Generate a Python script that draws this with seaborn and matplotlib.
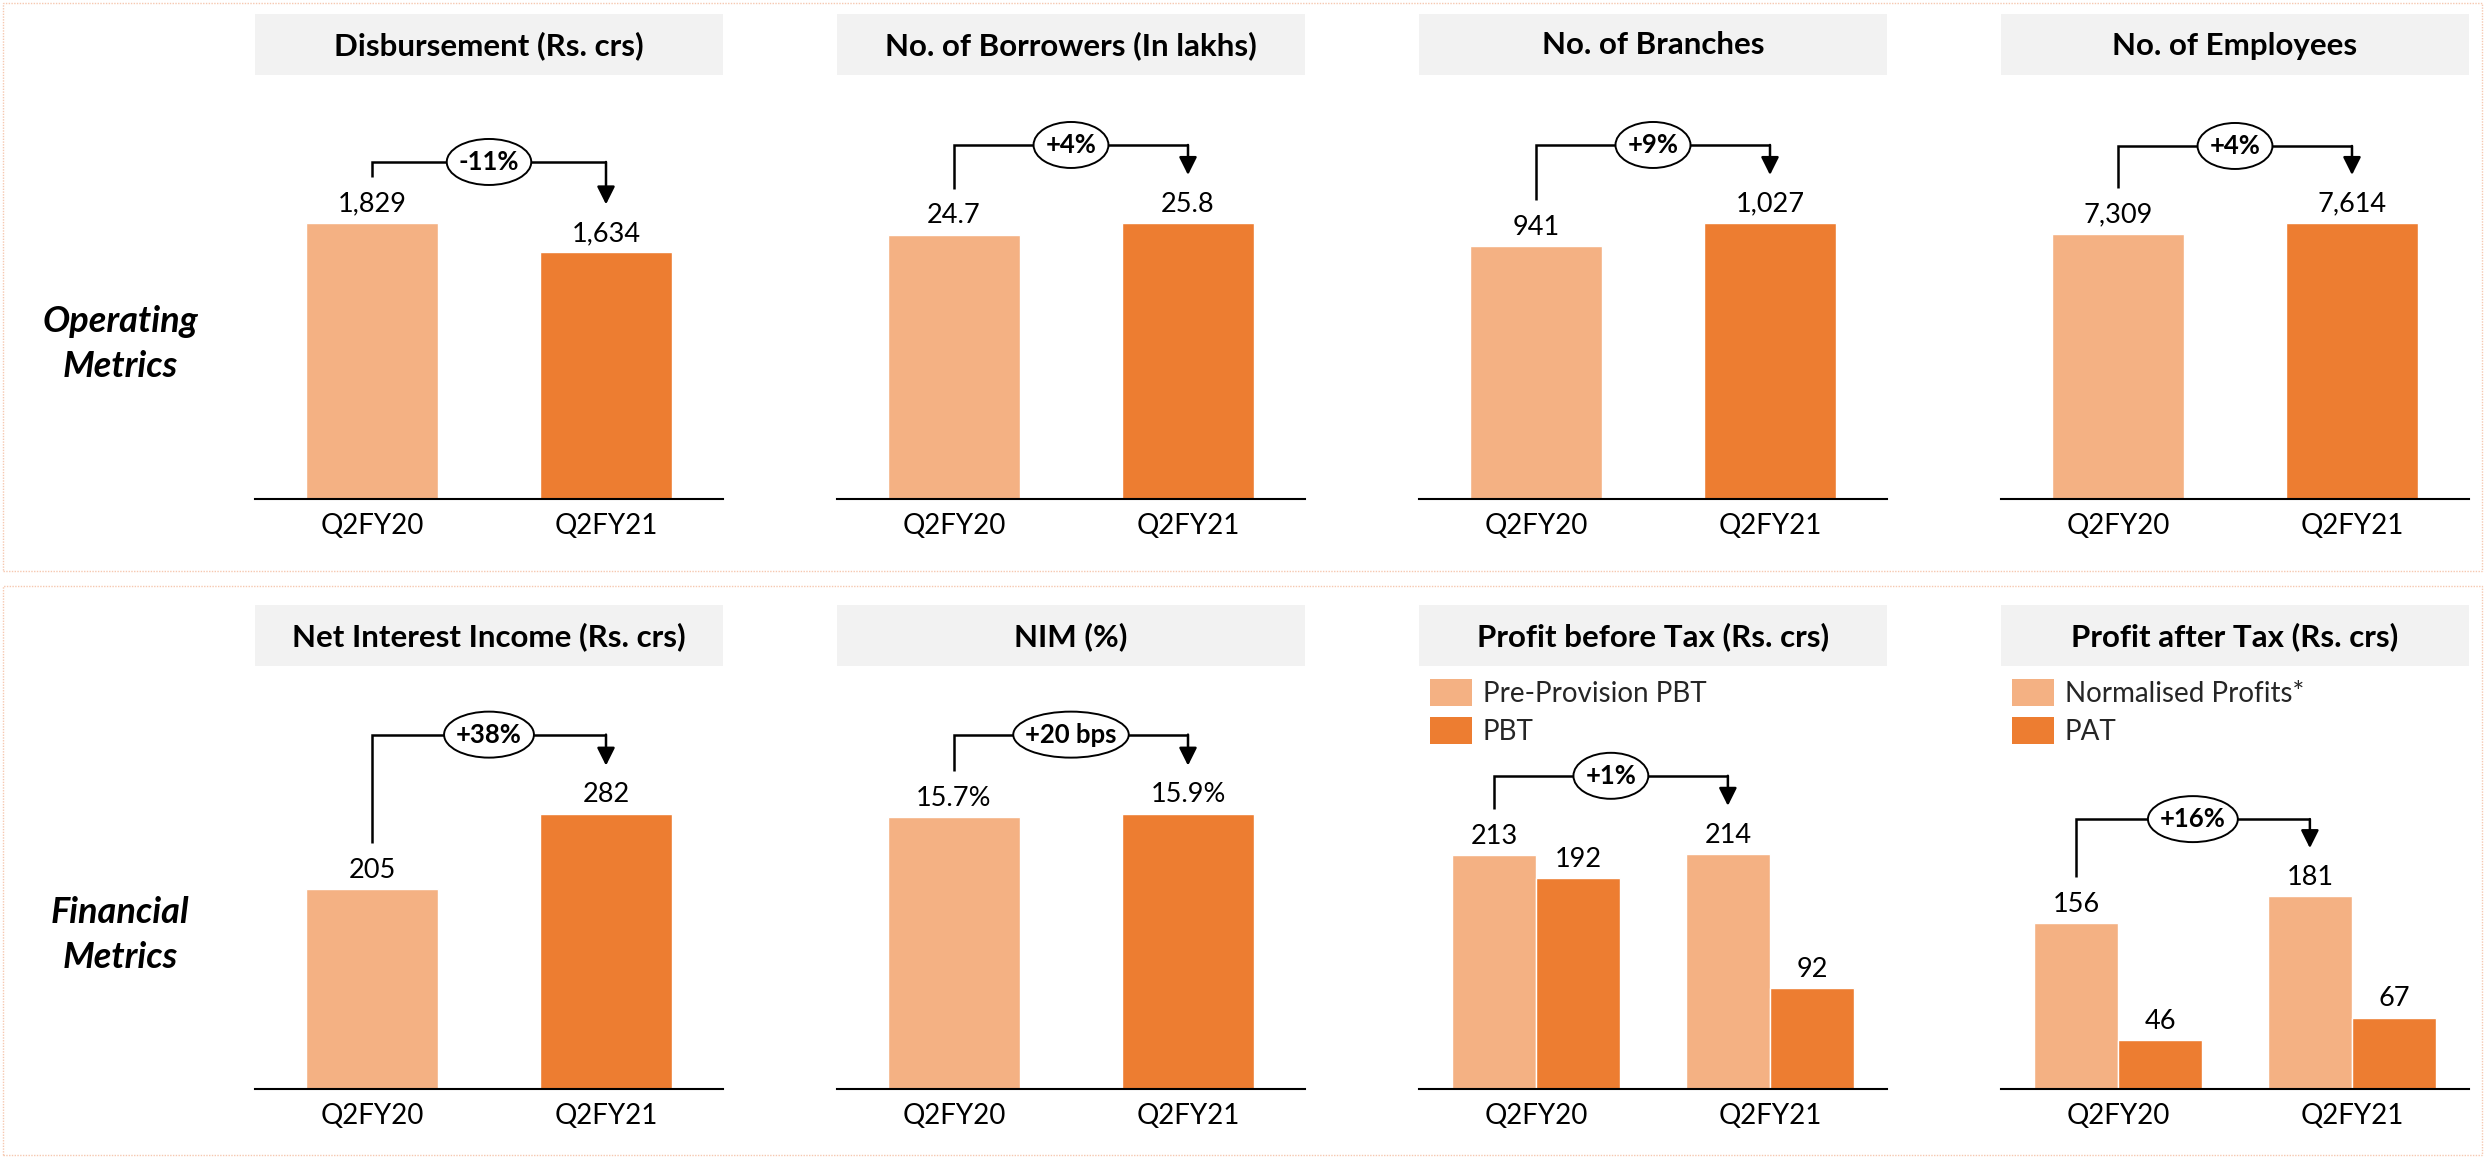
import matplotlib
matplotlib.use("Agg")
import matplotlib.pyplot as plt
import pandas as pd
import seaborn as sns
from matplotlib.patches import Rectangle, Ellipse, Patch

sns.set_theme(style="white")
plt.rcParams["font.family"] = ["Lato", "DejaVu Sans"]

# ---------------- data ----------------
periods = ["Q2FY20", "Q2FY21"]

# operating metrics
disbursement = [1829, 1634]
borrowers = [24.7, 25.8]
branches = [941, 1027]
employees = [7309, 7614]

# financial metrics
net_interest_income = [205, 282]
nim = [15.7, 15.9]
pre_provision_pbt = [213, 214]
pbt = [192, 92]
normalised_profits = [156, 181]
pat = [46, 67]

titles = [
    "Disbursement (Rs. crs)", "No. of Borrowers (In lakhs)", "No. of Branches", "No. of Employees",
    "Net Interest Income (Rs. crs)", "NIM (%)", "Profit before Tax (Rs. crs)", "Profit after Tax (Rs. crs)",
]
growth_labels = ["-11%", "+4%", "+9%", "+4%", "+38%", "+20 bps", "+1%", "+16%"]
value_formats = ["{:,.0f}", "{:.1f}", "{:,.0f}", "{:,.0f}", "{:,.0f}", "{:.1f}%", "{:,.0f}", "{:,.0f}"]
series = [
    [(None, disbursement)],
    [(None, borrowers)],
    [(None, branches)],
    [(None, employees)],
    [(None, net_interest_income)],
    [(None, nim)],
    [("Pre-Provision PBT", pre_provision_pbt), ("PBT", pbt)],
    [("Normalised Profits*", normalised_profits), ("PAT", pat)],
]
row_labels = [("Operating", "Metrics"), ("Financial", "Metrics")]

# ---------------- style / layout ----------------
LIGHT = "#F4B183"
DARK = "#ED7D31"
W, H = 2486, 1159
PANEL_LEFT = [255, 837, 1419, 2001]
PANEL_W = 468
TITLE_TOP = [14, 605]
TITLE_BOT = [75, 666]
BASELINE = [499, 1089]
FILL = [0.651] * 6 + [0.556, 0.456]          # share of axis height taken by tallest bar
BRACKET_GAP = [61, 78, 78, 77, 79, 79, 78, 77]  # px above tallest bar

FS_TITLE = 22.5
FS_TICK = 20
FS_VALUE = 19.5
FS_LEGEND = 20
FS_GROWTH = 18.5
FS_ROW = 26


def fx(px):
    return px / W


def fy(py):
    return 1 - py / H


fig = plt.figure(figsize=(W / 100, H / 100), dpi=100)
fig.patch.set_facecolor("white")
renderer = fig.canvas.get_renderer()

# dotted section frames
for top, bot in [(3, 571), (586, 1155)]:
    fig.add_artist(Rectangle((fx(3), fy(bot)), fx(2479), (bot - top) / H,
                             transform=fig.transFigure, fill=False,
                             edgecolor="#F6C8B0", lw=1.0, ls=(0, (1, 1))))

# row labels
for r, (l1, l2) in enumerate(row_labels):
    off = 591 * r
    for txt, yb in [(l1, 332 + off), (l2, 377 + off)]:
        fig.text(fx(120), fy(yb), txt, ha="center", va="baseline",
                 fontsize=FS_ROW, fontweight="bold", fontstyle="italic", color="black")

for i in range(8):
    row, col = divmod(i, 4)
    L = PANEL_LEFT[col]
    ax_h = BASELINE[row] - TITLE_BOT[row]

    # title box
    fig.add_artist(Rectangle((fx(L), fy(TITLE_BOT[row])), PANEL_W / W,
                             (TITLE_BOT[row] - TITLE_TOP[row]) / H,
                             transform=fig.transFigure, facecolor="#F2F2F2",
                             edgecolor="none", zorder=0))
    fig.text(fx(L + PANEL_W / 2), fy((TITLE_TOP[row] + TITLE_BOT[row]) / 2 + 1), titles[i],
             ha="center", va="center", fontsize=FS_TITLE, fontweight="bold", color="black")

    ax = fig.add_axes([fx(L), fy(BASELINE[row]), PANEL_W / W, ax_h / H])
    ax.set_facecolor("none")
    fmt = value_formats[i]

    if len(series[i]) == 1:
        vals = series[i][0][1]
        df = pd.DataFrame({"period": periods, "value": vals})
        sns.barplot(data=df, x="period", y="value", hue="period", palette=[LIGHT, DARK],
                    width=0.56, saturation=1, errorbar=None, legend=False, ax=ax)
        x0, x1 = 0.0, 1.0
        v0, v1 = vals
        vmax = max(vals)
    else:
        (n1, s1), (n2, s2) = series[i]
        df = pd.DataFrame({"period": periods * 2, "value": list(s1) + list(s2),
                           "series": [n1] * 2 + [n2] * 2})
        sns.barplot(data=df, x="period", y="value", hue="series", palette=[LIGHT, DARK],
                    width=0.72, saturation=1, errorbar=None, ax=ax)
        if ax.get_legend() is not None:
            ax.get_legend().remove()
        x0, x1 = -0.18, 0.82
        v0, v1 = s1
        vmax = max(list(s1) + list(s2))
        ax.legend(handles=[Patch(facecolor=LIGHT, edgecolor="none"),
                           Patch(facecolor=DARK, edgecolor="none")],
                  labels=[n1, n2], loc="upper left",
                  bbox_to_anchor=(fx(L + 11), fy(679)), bbox_transform=fig.transFigure,
                  frameon=False, fontsize=FS_LEGEND, handlelength=1.5, handleheight=1.1,
                  handletextpad=0.4, labelspacing=0.38, borderpad=0, borderaxespad=0)

    ylim_top = vmax / FILL[i]
    ax.set_ylim(0, ylim_top)
    ax.set_xlim(-0.5, 1.5)

    for cont in ax.containers:
        ax.bar_label(cont, labels=[fmt.format(v) for v in cont.datavalues],
                     padding=4.5, fontsize=FS_VALUE, color="black")

    for s in ["left", "right", "top"]:
        ax.spines[s].set_visible(False)
    ax.spines["bottom"].set_color("black")
    ax.spines["bottom"].set_linewidth(1.5)
    ax.set_yticks([])
    ax.set_xlabel("")
    ax.set_ylabel("")
    ax.tick_params(axis="x", length=0, pad=10, labelsize=FS_TICK, labelcolor="black")

    # growth bracket
    upp = ylim_top / ax_h
    upx = 2.0 / PANEL_W
    yb = v0 + 46 * upp
    yt = v1 + 48 * upp
    yh = vmax + BRACKET_GAP[i] * upp
    ax.plot([x0, x0, x1], [yb, yh, yh], color="black", lw=1.8, clip_on=False,
            solid_joinstyle="miter", solid_capstyle="butt", zorder=4)
    ax.annotate("", xy=(x1, yt), xytext=(x1, yh),
                arrowprops=dict(arrowstyle="-|>", color="black", lw=1.8,
                                mutation_scale=27, shrinkA=0, shrinkB=0),
                annotation_clip=False, zorder=4)
    xc = (x0 + x1) / 2
    t = ax.text(xc, yh, growth_labels[i], ha="center", va="center", fontsize=FS_GROWTH,
                fontweight="bold", color="black", zorder=6)
    w_px = t.get_window_extent(renderer).width
    ax.add_patch(Ellipse((xc, yh), (w_px + 24) * upx, 46 * upp, facecolor="white",
                         edgecolor="black", lw=1.4, zorder=5, clip_on=False))

fig.savefig("out.png", dpi=100, facecolor="white")
